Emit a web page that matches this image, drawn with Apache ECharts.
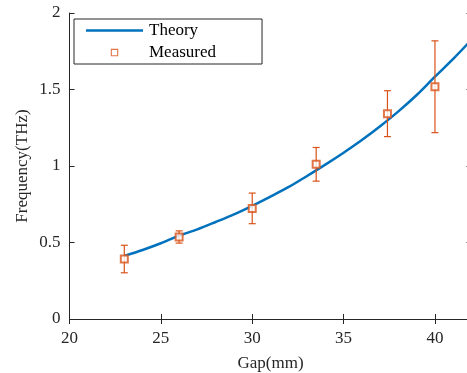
<!DOCTYPE html>
<html>
<head>
<meta charset="utf-8">
<script src="https://cdn.jsdelivr.net/npm/echarts@6/dist/echarts.min.js"></script>
<style>
  html, body { margin: 0; padding: 0; background: #fff; }
  #chart { width: 467px; height: 373px; }
</style>
</head>
<body>
<div id="chart"></div>
<script>
// theory curve
const theoryGap = [23, 24, 25, 26, 27, 28, 29, 30, 31, 32, 33, 34, 35, 36, 37, 38, 39, 40, 41, 42]
const theoryFreq = [0.412, 0.451, 0.495, 0.545, 0.586, 0.634, 0.684, 0.74, 0.80, 0.863, 0.935, 1.009, 1.087, 1.17, 1.26, 1.357, 1.464, 1.584, 1.70, 1.825]
// measured points with error bars
const measGap = [23, 26, 30, 33.5, 37.4, 40]
const measFreq = [0.392, 0.536, 0.723, 1.011, 1.342, 1.518]
const measErr = [0.09, 0.04, 0.1, 0.11, 0.15, 0.3]
const xTicks = [20, 25, 30, 35, 40]
const yTicks = [0, 0.5, 1, 1.5, 2]

const blue = '#0072BD'
const orange = '#D95319'
const axisColor = '#262626'
const font = '"Liberation Serif", "Times New Roman", serif'

const chart = echarts.init(document.getElementById('chart'), null, { renderer: 'canvas' })

const errData = measGap.map((g, i) => [g, measFreq[i] - measErr[i], measFreq[i] + measErr[i]])

const axisCommon = {
  axisLine: { show: true, lineStyle: { color: axisColor, width: 1 } },
  axisTick: { show: true, inside: true, length: 5, lineStyle: { color: axisColor } },
  splitLine: { show: false }
}

const option = {
  animation: false,
  grid: { left: 69.5, top: 13, width: 402, height: 306, containLabel: false, outerBoundsMode: 'none' },
  legend: {
    left: 74,
    top: 19,
    orient: 'vertical',
    itemWidth: 57,
    itemHeight: 7.5,
    itemGap: 5,
    padding: [3, 46, 3, 12],
    backgroundColor: '#fff',
    borderColor: axisColor,
    borderWidth: 1,
    borderRadius: 0,
    textStyle: { fontFamily: font, fontSize: 17, color: '#000', padding: [0, 0, 0, 1] },
    data: [
      { name: 'Theory', icon: 'path://M0,0h100v4.5h-100z' },
      { name: 'Measured', icon: 'path://M0,0h10v10h-10z M1.5,1.5v7h7v-7z' }
    ]
  },
  xAxis: [
    Object.assign({}, axisCommon, {
      type: 'value', min: 20, max: 42, interval: 5,
      name: 'Gap(mm)', nameLocation: 'middle', nameGap: 36,
      nameTextStyle: { fontFamily: font, fontSize: 17, color: '#262626' },
      axisLabel: {
        fontFamily: font, fontSize: 17, color: '#262626', margin: 11,
        showMaxLabel: false,
        formatter: v => xTicks.includes(v) ? String(v) : ''
      }
    }),
    Object.assign({}, axisCommon, {
      type: 'value', min: 20, max: 42, interval: 5, position: 'top',
      axisLabel: { show: false }
    })
  ],
  yAxis: [
    Object.assign({}, axisCommon, {
      type: 'value', min: 0, max: 2, interval: 0.5,
      name: 'Frequency(THz)', nameLocation: 'middle', nameGap: 38,
      nameMoveOverlap: false,
      nameTextStyle: { fontFamily: font, fontSize: 17, color: '#262626' },
      axisLabel: {
        fontFamily: font, fontSize: 17, color: '#262626', margin: 9,
        formatter: v => yTicks.includes(v) ? String(v) : ''
      }
    }),
    Object.assign({}, axisCommon, {
      type: 'value', min: 0, max: 2, interval: 0.5, position: 'right',
      axisLabel: { show: false }
    })
  ],
  series: [
    {
      name: 'Theory',
      type: 'line',
      data: theoryGap.map((g, i) => [g, theoryFreq[i]]),
      smooth: 0.3,
      symbol: 'none',
      color: blue,
      lineStyle: { color: blue, width: 2.5 },
      z: 3
    },
    {
      name: 'errbar',
      type: 'custom',
      data: errData,
      z: 4,
      renderItem: function (params, api) {
        const x = api.coord([api.value(0), api.value(1)])[0]
        const lo = api.coord([api.value(0), api.value(1)])[1]
        const hi = api.coord([api.value(0), api.value(2)])[1]
        const cap = 3.5
        const style = { stroke: orange, lineWidth: 1.2 }
        return {
          type: 'group',
          children: [
            { type: 'line', shape: { x1: x, y1: lo, x2: x, y2: hi }, style: style },
            { type: 'line', shape: { x1: x - cap, y1: lo, x2: x + cap, y2: lo }, style: style },
            { type: 'line', shape: { x1: x - cap, y1: hi, x2: x + cap, y2: hi }, style: style }
          ]
        }
      }
    },
    {
      name: 'Measured',
      type: 'scatter',
      data: measGap.map((g, i) => [g, measFreq[i]]),
      symbol: 'emptyRect',
      symbolSize: 7,
      color: orange,
      itemStyle: { color: orange, borderWidth: 1.2 },
      z: 5
    }
  ]
}

chart.setOption(option)
</script>
</body>
</html>
